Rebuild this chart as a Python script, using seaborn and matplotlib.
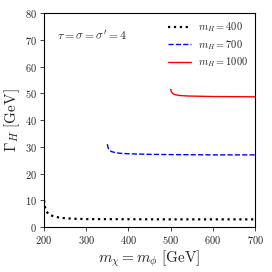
import matplotlib
matplotlib.use("Agg")
import matplotlib.pyplot as plt
import pandas as pd
import seaborn as sns

# widths
x_400 = [200, 201, 203, 206, 210, 215, 220, 225, 235, 250, 275, 300, 400, 500, 600, 700]
y_400 = [10.0, 8.5, 7.0, 5.8, 5.0, 4.5, 4.2, 4.0, 3.6, 3.3, 3.1, 3.0, 2.95, 2.9, 2.9, 2.9]

x_700 = [350, 351, 353, 356, 360, 370, 380, 400, 450, 500, 600, 700]
y_700 = [31.0, 30.0, 29.2, 28.6, 28.2, 27.8, 27.6, 27.4, 27.2, 27.1, 27.0, 27.0]

x_1000 = [500, 501, 503, 506, 510, 520, 540, 570, 600, 650, 700]
y_1000 = [51.5, 50.8, 50.2, 49.8, 49.5, 49.2, 49.0, 48.9, 48.8, 48.75, 48.7]

sns.set_style("ticks")
plt.rcParams["font.family"] = ["serif"]
plt.rcParams["font.serif"] = ["cmr10", "DejaVu Serif"]
plt.rcParams["mathtext.fontset"] = "cm"
plt.rcParams["axes.formatter.use_mathtext"] = True

fig = plt.figure(figsize=(2.72, 2.72), dpi=100)
ax = fig.add_axes([0.162, 0.165, 0.776, 0.787])

df400 = pd.DataFrame({"m": x_400, "G": y_400})
df700 = pd.DataFrame({"m": x_700, "G": y_700})
df1000 = pd.DataFrame({"m": x_1000, "G": y_1000})

sns.lineplot(data=df400, x="m", y="G", ax=ax, color="black", linestyle=":", linewidth=1.6,
             label=r"$m_H = 400$")
sns.lineplot(data=df700, x="m", y="G", ax=ax, color="blue", linestyle="--", linewidth=1,
             label=r"$m_H = 700$")
sns.lineplot(data=df1000, x="m", y="G", ax=ax, color="red", linestyle="-", linewidth=1,
             label=r"$m_H = 1000$")

ax.set_xlim(200, 700)
ax.set_ylim(0, 80)
ax.set_xticks([200, 300, 400, 500, 600, 700])
ax.set_yticks([0, 10, 20, 30, 40, 50, 60, 70, 80])
ax.tick_params(labelsize=7.5, length=3, width=0.6, pad=2)
for s in ax.spines.values():
    s.set_linewidth(0.8)
    s.set_color("black")
ax.set_xlabel(r"$m_\chi = m_\phi\ [\mathrm{GeV}]$", fontsize=11, labelpad=2)
ax.set_ylabel(r"$\Gamma_H\ [\mathrm{GeV}]$", fontsize=11, labelpad=2)
ax.text(0.06, 0.875, r"$\tau = \sigma = \sigma' = 4$", transform=ax.transAxes, fontsize=8.5)
ax.legend(loc="upper right", frameon=False, fontsize=7.5, handlelength=2.2,
          borderaxespad=0.3, labelspacing=0.35, handletextpad=0.7)

plt.savefig("out.png", dpi=100)
